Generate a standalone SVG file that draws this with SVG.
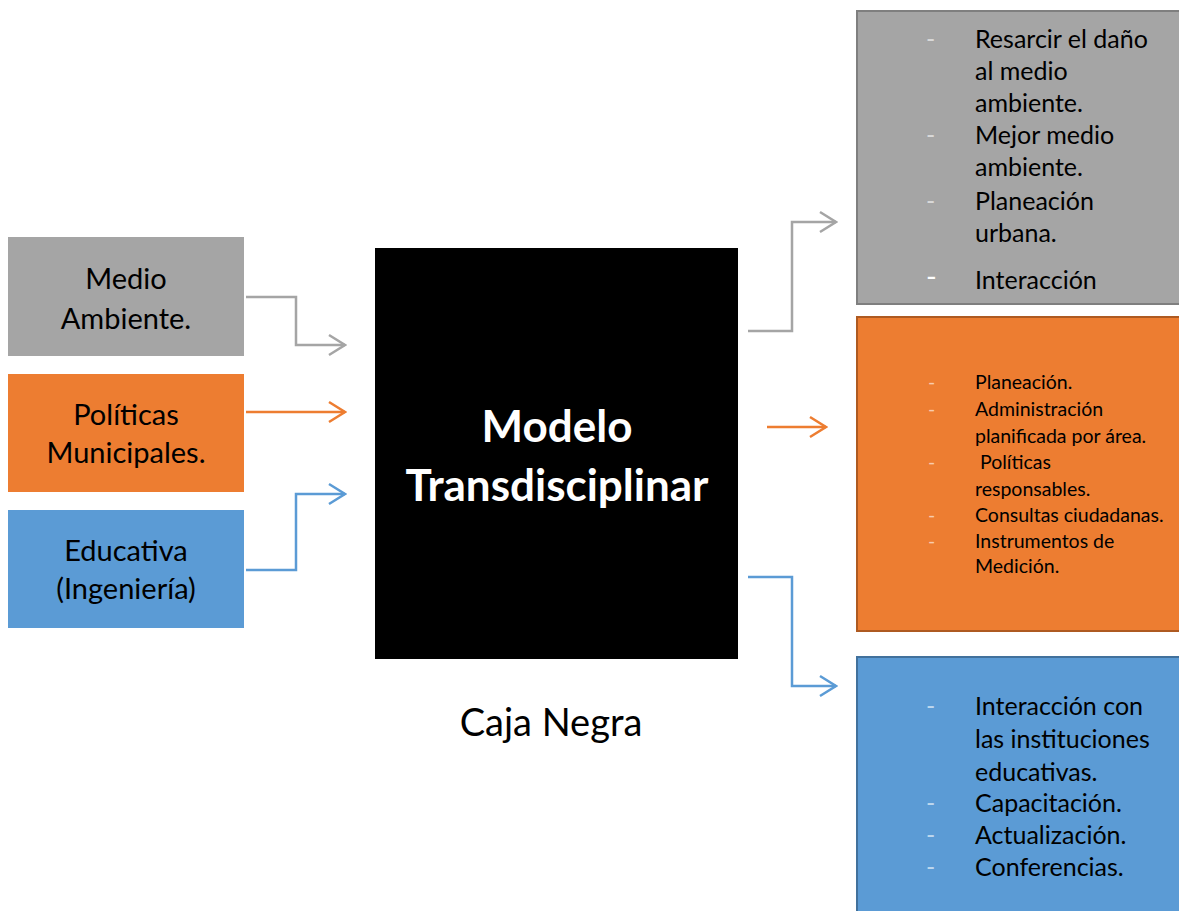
<svg xmlns="http://www.w3.org/2000/svg" width="1179" height="911" viewBox="0 0 1179 911">
<defs>
<style>
text{font-family:Lato,"Open Sans","Liberation Sans",sans-serif;fill:#000}
.lbl{font-size:29px;text-anchor:middle}
.big{font-size:25px}
.sm{font-size:19.5px}
.ttl{font-size:44px;font-weight:bold;fill:#fff;text-anchor:middle}
.cap{font-size:38px;text-anchor:middle}
.c{fill:none;stroke-width:2.5}
.dg{fill:#d9d9d9}
.do{fill:#f8cbad}
.db{fill:#bdd7ee}
</style>
<marker id="aG" markerWidth="20" markerHeight="24" refX="18" refY="12" orient="auto" markerUnits="userSpaceOnUse"><path d="M2,2 L18,12 L2,22" fill="none" stroke="#a5a5a5" stroke-width="2.5"/></marker>
<marker id="aO" markerWidth="20" markerHeight="24" refX="18" refY="12" orient="auto" markerUnits="userSpaceOnUse"><path d="M2,2 L18,12 L2,22" fill="none" stroke="#ed7d31" stroke-width="2.5"/></marker>
<marker id="aB" markerWidth="20" markerHeight="24" refX="18" refY="12" orient="auto" markerUnits="userSpaceOnUse"><path d="M2,2 L18,12 L2,22" fill="none" stroke="#5b9bd5" stroke-width="2.5"/></marker>
</defs>
<rect width="1179" height="911" fill="#fff"/>
<g id="in-medio">
<rect x="8" y="237" width="236" height="119" fill="#a5a5a5"/>
<text class="lbl" x="126" y="289">Medio</text>
<text class="lbl" x="126" y="329">Ambiente.</text>
</g>
<g id="in-politicas">
<rect x="8" y="374" width="236" height="118" fill="#ed7d31"/>
<text class="lbl" x="126" y="425">Políticas</text>
<text class="lbl" x="126" y="463">Municipales.</text>
</g>
<g id="in-educativa">
<rect x="8" y="510" width="236" height="118" fill="#5b9bd5"/>
<text class="lbl" x="126" y="561">Educativa</text>
<text class="lbl" x="126" y="599">(Ingeniería)</text>
</g>
<g id="modelo">
<rect x="375" y="248" width="363" height="411" fill="#000"/>
<text class="ttl" x="557" y="442">Modelo</text>
<text class="ttl" x="557" y="501">Transdisciplinar</text>
</g>
<g id="caja-negra">
<text class="cap" x="551" y="736">Caja Negra</text>
</g>
<g id="out-medio">
<rect x="857" y="11" width="325" height="293" fill="#a5a5a5" stroke="#7f7f7f" stroke-width="2"/>
<text class="big dg" x="926" y="48">-</text>
<text class="big" x="975" y="48">Resarcir el daño</text>
<text class="big" x="975" y="80">al medio</text>
<text class="big" x="975" y="112">ambiente.</text>
<text class="big dg" x="926" y="144">-</text>
<text class="big" x="975" y="144">Mejor medio</text>
<text class="big" x="975" y="176">ambiente.</text>
<text class="big dg" x="926" y="210">-</text>
<text class="big" x="975" y="210">Planeación</text>
<text class="big" x="975" y="242">urbana.</text>
<text x="926" y="287" style="font-size:29px;fill:#fff">-</text>
<text class="big" x="975" y="289">Interacción</text>
</g>
<g id="out-politicas">
<rect x="857" y="317" width="325" height="314" fill="#ed7d31" stroke="#ae5a21" stroke-width="2"/>
<text class="sm do" x="928" y="389">-</text>
<text class="sm" x="975" y="389">Planeación.</text>
<text class="sm do" x="928" y="416">-</text>
<text class="sm" x="975" y="416">Administración</text>
<text class="sm" x="975" y="443">planificada por área.</text>
<text class="sm do" x="928" y="469">-</text>
<text class="sm" x="975" y="469" xml:space="preserve"> Políticas</text>
<text class="sm" x="975" y="496">responsables.</text>
<text class="sm do" x="928" y="522">-</text>
<text class="sm" x="975" y="522">Consultas ciudadanas.</text>
<text class="sm do" x="928" y="548">-</text>
<text class="sm" x="975" y="548">Instrumentos de</text>
<text class="sm" x="975" y="573">Medición.</text>
</g>
<g id="out-educativa">
<rect x="857" y="657" width="325" height="260" fill="#5b9bd5" stroke="#41719c" stroke-width="2"/>
<text class="big db" x="926" y="715">-</text>
<text class="big" x="975" y="715">Interacción con</text>
<text class="big" x="975" y="748">las instituciones</text>
<text class="big" x="975" y="781">educativas.</text>
<text class="big db" x="926" y="812">-</text>
<text class="big" x="975" y="812">Capacitación.</text>
<text class="big db" x="926" y="844">-</text>
<text class="big" x="975" y="844">Actualización.</text>
<text class="big db" x="926" y="876">-</text>
<text class="big" x="975" y="876">Conferencias.</text>
</g>
<g id="connectors">
<polyline class="c" points="246,297 296,297 296,345 345,345" stroke="#a5a5a5" marker-end="url(#aG)"/>
<polyline class="c" points="246,412 345,412" stroke="#ed7d31" marker-end="url(#aO)"/>
<polyline class="c" points="246,570 296,570 296,494 345,494" stroke="#5b9bd5" marker-end="url(#aB)"/>
<polyline class="c" points="748,331 792,331 792,222 836,222" stroke="#a5a5a5" marker-end="url(#aG)"/>
<polyline class="c" points="767,427 826,427" stroke="#ed7d31" marker-end="url(#aO)"/>
<polyline class="c" points="748,577 792,577 792,686 836,686" stroke="#5b9bd5" marker-end="url(#aB)"/>
</g>
</svg>
